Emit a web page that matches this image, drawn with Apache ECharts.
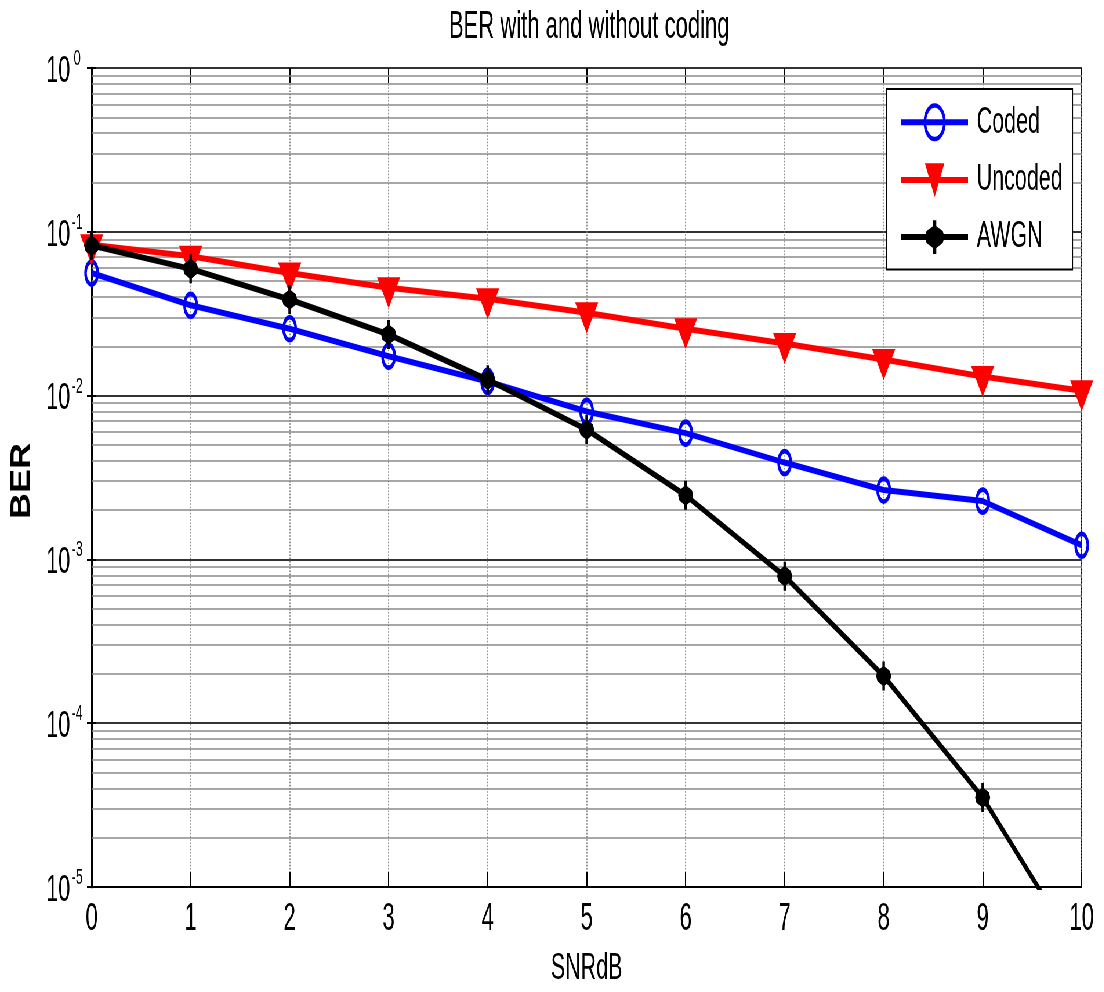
<!DOCTYPE html>
<html>
<head>
<meta charset="utf-8">
<title>BER with and without coding</title>
<script src="https://cdn.jsdelivr.net/npm/echarts@6/dist/echarts.min.js"></script>
<style>
  html, body { margin: 0; padding: 0; overflow: hidden; background: #fff; width: 1104px; height: 992px; }
  #frame { position: relative; width: 1104px; height: 992px; overflow: hidden; }
  /* the figure is laid out wide and squeezed horizontally, like a narrow exported plot */
  #chart { position: absolute; left: 0; top: 0; width: 1903px; height: 992px;
           transform: scaleX(0.58); transform-origin: 0 0; }
</style>
</head>
<body>
<div id="frame"><div id="chart"></div></div>
<script>
// SNR in dB (x axis)
const snrDb = [0, 1, 2, 3, 4, 5, 6, 7, 8, 9, 10];
// bit error rates per scheme
const coded   = [0.056, 0.0356, 0.0256, 0.0174, 0.0122, 0.0080, 0.0059, 0.0039, 0.00265, 0.00227, 0.00122];
const uncoded = [0.0835, 0.0709, 0.0561, 0.0455, 0.0390, 0.0320, 0.0256, 0.0208, 0.0166, 0.0131, 0.0107];
const awgn    = [0.0824, 0.0594, 0.0386, 0.0236, 0.0125, 0.0062, 0.00246, 0.00079, 0.000194, 0.0000352, 0.0000037];
// y axis decades (10^e) and the minor grid multipliers inside each decade
const yTickExponents = [0, -1, -2, -3, -4, -5];
const minorMultipliers = [2, 3, 4, 5, 6, 7, 8, 9];

const FONT = '"Liberation Sans", Arial, Helvetica, sans-serif';

function pairs(ys) { return snrDb.map((x, i) => [x, ys[i]]); }

// minor horizontal grid levels at 2..9 x 10^e
const minorLevels = [];
yTickExponents.slice(1).forEach(e => {
  minorMultipliers.forEach(m => minorLevels.push(m * Math.pow(10, e)));
});

const chart = echarts.init(document.getElementById('chart'), null, { renderer: 'canvas' });

chart.setOption({
  animation: false,
  backgroundColor: '#fff',
  title: {
    text: 'BER with and without coding',
    left: 769, top: 4,
    textStyle: { fontFamily: FONT, fontSize: 38, fontWeight: 'normal', color: '#000' }
  },
  graphic: [{
    type: 'text',
    x: 38, y: 481,
    rotation: Math.PI / 2,
    scaleY: 1.33,
    style: {
      text: 'BER', fontFamily: FONT, fontSize: 36, fontWeight: 'bold', fill: '#000',
      align: 'center', verticalAlign: 'middle'
    }
  }],
  legend: {
    orient: 'vertical',
    left: 1529, top: 89,
    data: [{ name: 'Coded', itemStyle: { borderWidth: 4.5 } }, 'Uncoded', 'AWGN'],
    itemWidth: 115, itemHeight: 42, itemGap: 20,
    padding: [14, 17, 14, 22],
    backgroundColor: '#fff', borderColor: '#000', borderWidth: 2,
    lineStyle: { width: 6 },
    textStyle: { fontFamily: FONT, fontSize: 37, color: '#000', padding: [0, 0, 0, 10] }
  },
  grid: {
    left: 158, right: 38, top: 68, bottom: 104,
    show: true, borderColor: '#000', borderWidth: 2
  },
  xAxis: [{
    type: 'value', min: 0, max: 10, interval: 1,
    name: 'SNRdB', nameLocation: 'middle', nameGap: 63,
    nameTextStyle: { fontFamily: FONT, fontSize: 37, color: '#000' },
    axisLine: { show: true, onZero: false, lineStyle: { color: '#000', width: 2 } },
    axisTick: { show: true, inside: true, length: 15, lineStyle: { color: '#000', width: 2 } },
    axisLabel: { fontFamily: FONT, fontSize: 38, color: '#000', margin: 14 },
    splitLine: { show: true, lineStyle: { color: '#777', type: 'dotted', width: 1.6 } }
  }, {
    type: 'value', min: 0, max: 10, interval: 1, position: 'top',
    axisLine: { show: false },
    axisTick: { show: true, inside: true, length: 15, lineStyle: { color: '#000', width: 2 } },
    axisLabel: { show: false },
    splitLine: { show: false }
  }],
  yAxis: [{
    type: 'log', logBase: 10, min: 1e-5, max: 1,
    axisLine: { show: true, onZero: false, lineStyle: { color: '#000', width: 3 } },
    axisTick: { show: true, inside: true, length: 8, lineStyle: { color: '#000', width: 2 } },
    axisLabel: {
      margin: 13,
      formatter: v => {
        const e = Math.round(Math.log10(v));
        return yTickExponents.includes(e) ? '{b|10}{e|' + e + '}' : '';
      },
      rich: {
        b: { fontFamily: FONT, fontSize: 37, color: '#000', lineHeight: 40, padding: [7, 0, 0, 0] },
        e: { fontFamily: FONT, fontSize: 22, color: '#000', lineHeight: 12, verticalAlign: 'top', width: 24, align: 'left' }
      }
    },
    splitLine: { show: true, lineStyle: { color: '#333', type: 'solid', width: 2 } }
  }, {
    type: 'log', logBase: 10, min: 1e-5, max: 1, position: 'right',
    axisLine: { show: false },
    axisTick: { show: true, inside: true, length: 8, lineStyle: { color: '#000', width: 2 } },
    axisLabel: { show: false },
    splitLine: { show: false }
  }],
  series: [
    {
      // minor horizontal grid, spanning the full x range
      name: 'minor grid', type: 'lines', coordinateSystem: 'cartesian2d',
      xAxisIndex: 0, yAxisIndex: 0, silent: true, z: 1,
      lineStyle: { color: '#8a8a8a', width: 1.5, opacity: 1, curveness: 0 },
      data: minorLevels.map(v => ({ coords: [[0, v], [10, v]] }))
    },
    {
      name: 'Coded', type: 'line', data: pairs(coded), z: 3,
      color: '#0000ff',
      lineStyle: { color: '#0000ff', width: 6 },
      symbol: 'circle', symbolSize: [21, 23],
      itemStyle: { color: 'none', borderColor: '#0000ff', borderWidth: 4.5 }
    },
    {
      name: 'Uncoded', type: 'line', data: pairs(uncoded), z: 4,
      color: '#ff0000',
      lineStyle: { color: '#ff0000', width: 6 },
      symbol: 'triangle', symbolSize: [40, 31], symbolRotate: 180, symbolOffset: [0, 5],
      itemStyle: { color: '#ff0000', borderWidth: 0 }
    },
    {
      name: 'AWGN', type: 'line', data: pairs(awgn), z: 5,
      color: '#000',
      lineStyle: { color: '#000', width: 6 },
      symbol: 'path://M5,0 L7,0 L7,5 L11,9 L12,14 L11,19 L7,23 L7,28 L5,28 L5,23 L1,19 L0,14 L1,9 L5,5 Z',
      symbolSize: [26, 29],
      itemStyle: { color: '#000', borderWidth: 0 }
    }
  ]
});
</script>
</body>
</html>
